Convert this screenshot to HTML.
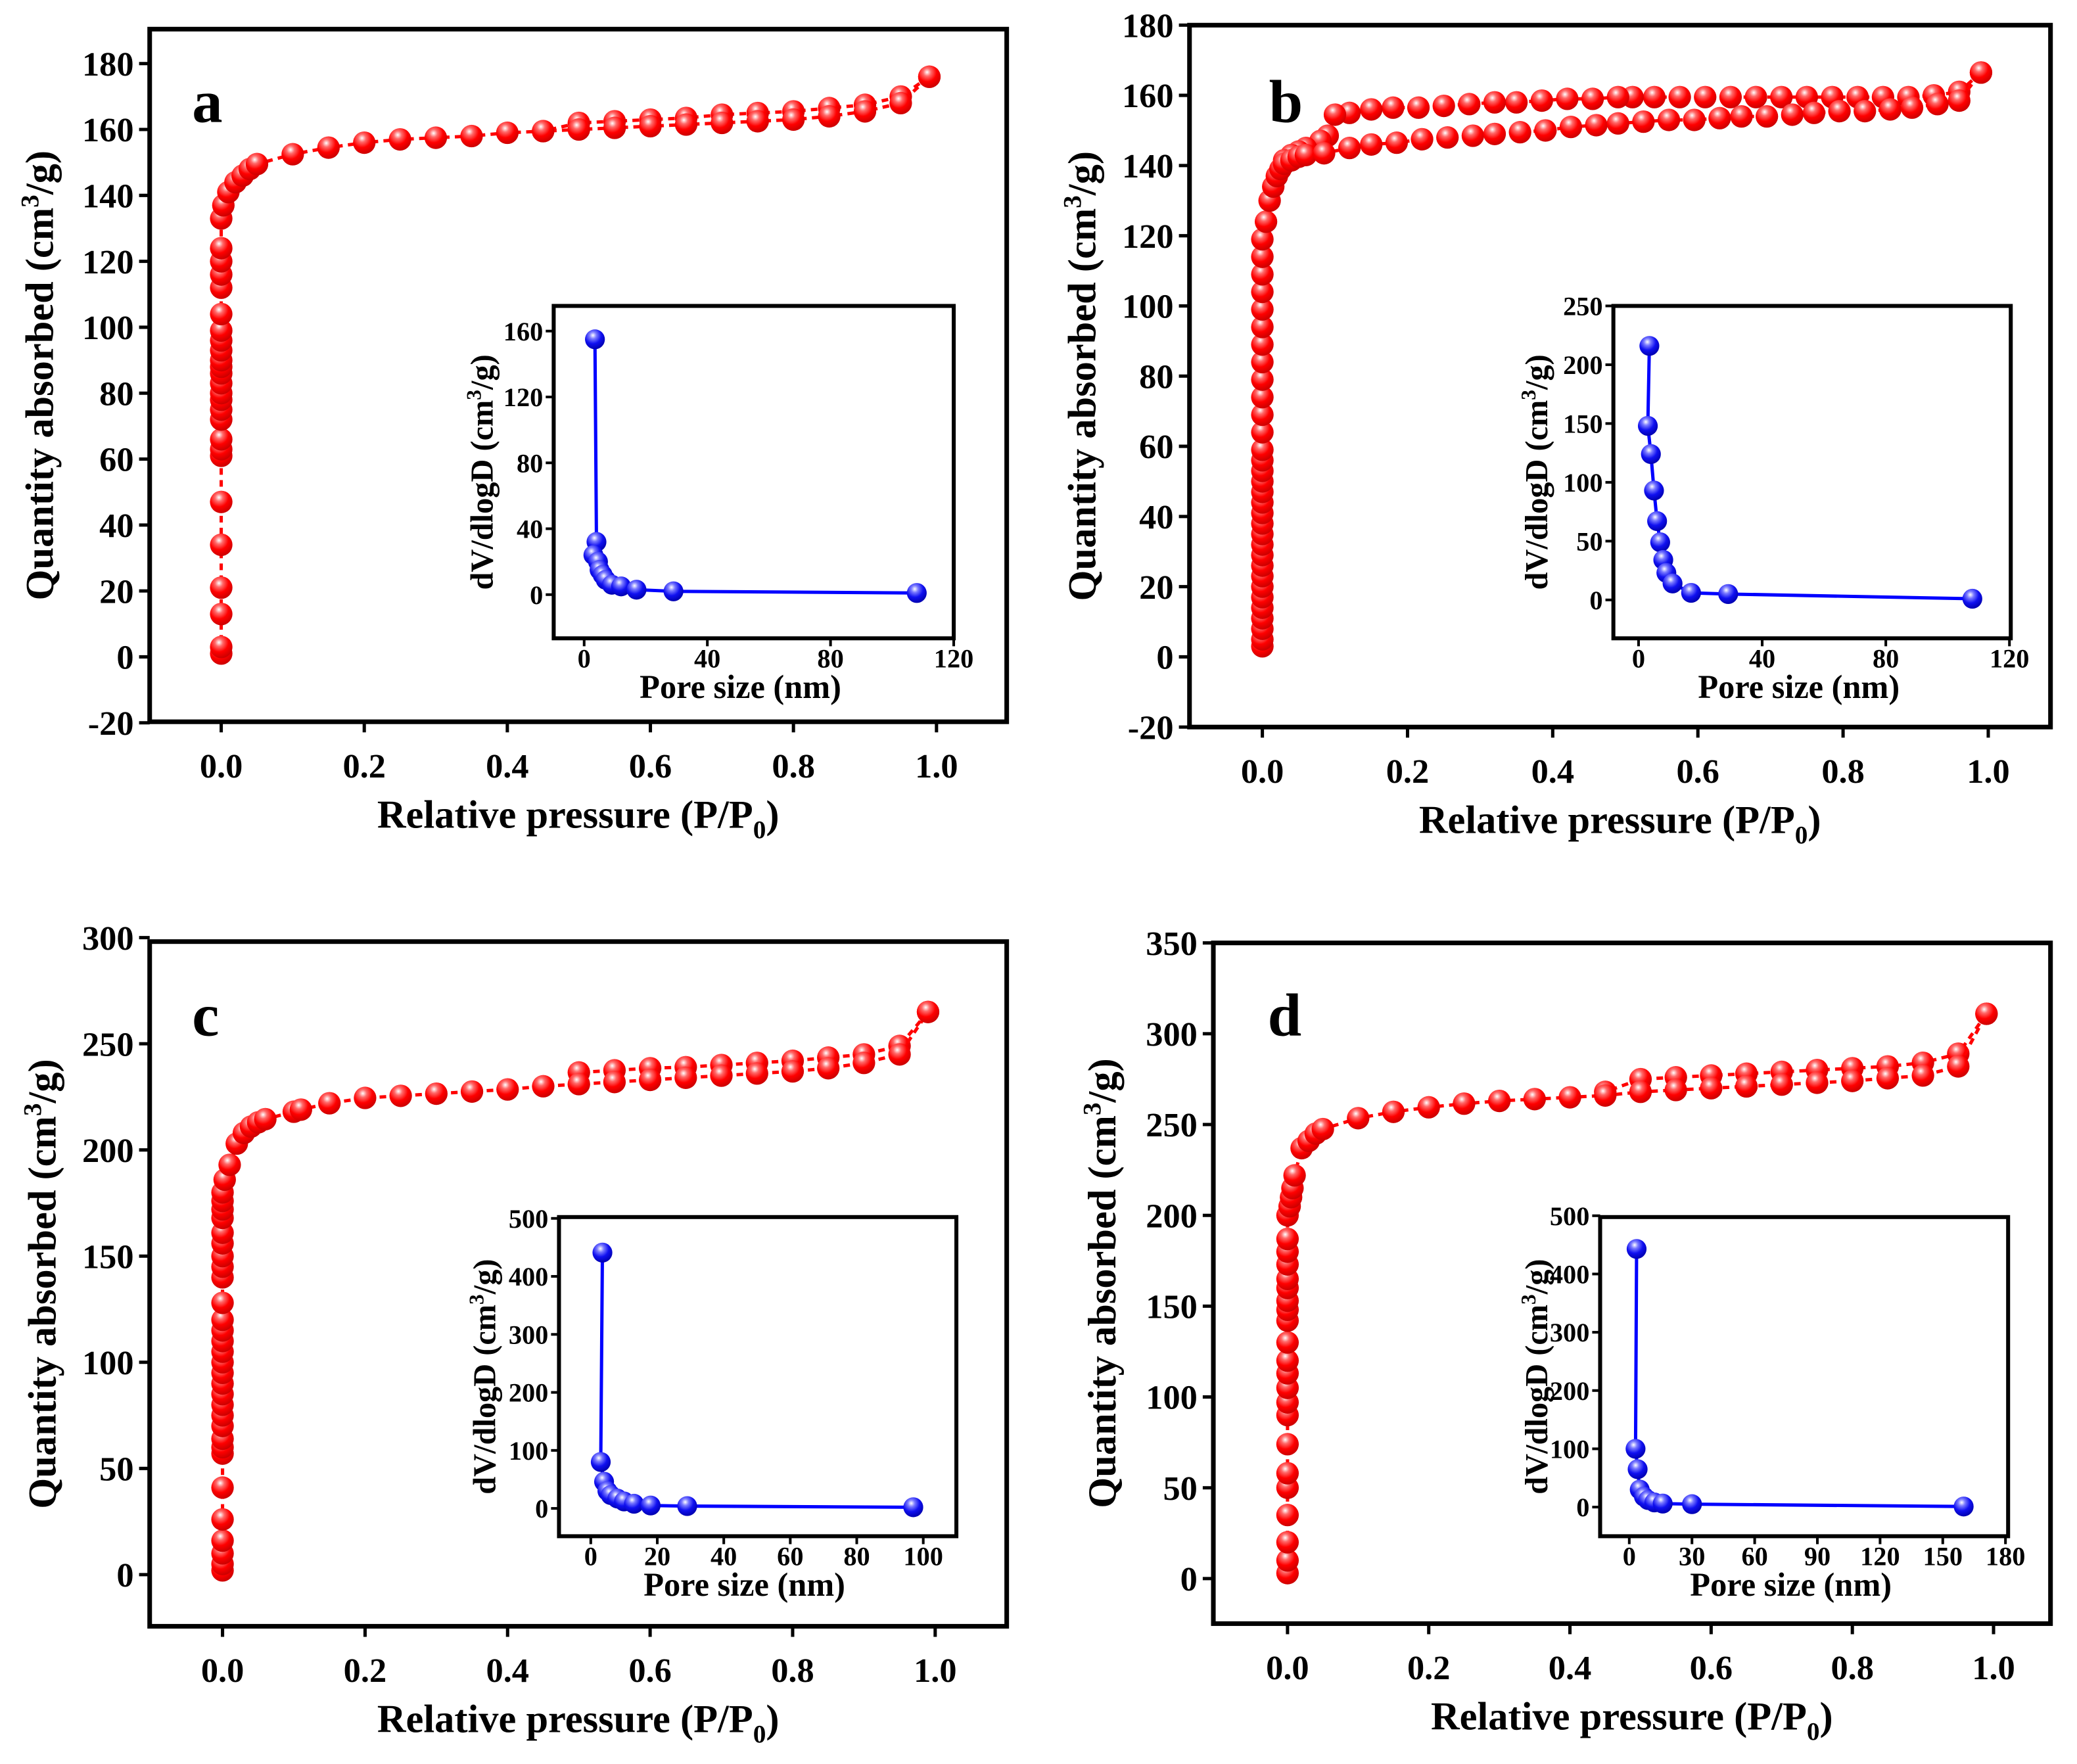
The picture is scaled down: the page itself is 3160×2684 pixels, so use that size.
<!DOCTYPE html>
<html><head><meta charset="utf-8"><style>
html,body{margin:0;padding:0;background:#fff}
svg{display:block}
text{font-family:"Liberation Serif","Times New Roman",serif;font-weight:bold;fill:#000}
</style></head><body>
<svg id="fig" width="3160" height="2684" viewBox="0 0 1568 1332" preserveAspectRatio="none" xmlns="http://www.w3.org/2000/svg">
<defs>
<radialGradient id="gr" cx="0.4" cy="0.3" r="0.7"><stop offset="0" stop-color="#fff"/><stop offset="0.25" stop-color="#ff6a6a"/><stop offset="0.6" stop-color="#f00"/><stop offset="1" stop-color="#c00"/></radialGradient>
<radialGradient id="gb" cx="0.4" cy="0.3" r="0.7"><stop offset="0" stop-color="#fff"/><stop offset="0.25" stop-color="#7a7aff"/><stop offset="0.6" stop-color="#1010f0"/><stop offset="1" stop-color="#0000b0"/></radialGradient>
</defs>
</svg>
<script>
// ---- Panel a data ----
const aAdsP=[0,0,0,0,0,0,0,0,0,0,0,0,0,0,0,0,0,0,0,0,0,0,0,0,0,0,0.003,0.01,0.02,0.03,0.04,0.05,0.1,0.15,0.2,0.25,0.3,0.35,0.4,0.45,0.5,0.55,0.6,0.65,0.7,0.75,0.8,0.85,0.9,0.95,0.99];
const aAdsV=[1,3,13,21,34,47,61,63,66,72,75,78,80,83,86,88,90,93,96,99,104,112,116,120,124,133,137,141,144,146,148,149.5,152.5,154.5,156,157,157.5,158,159,159.5,160,160.5,161,161.5,162,162.5,163,164,165.5,168,176];
const aDesP=[0.99,0.95,0.9,0.85,0.8,0.75,0.7,0.65,0.6,0.55,0.5,0.45];
const aDesV=[176,170,167.5,166.5,165.5,165,164.5,163.5,163,162.5,162,159.5];
const aPoreD=[3.5,4,3,4.5,5,6,7,9,12,17,29,108];
const aPoreV=[155,32,24,20,15,12,9,6,5,3,2,1];
// ---- Panel b data ----
const bAdsP=[0,0,0,0,0,0,0,0,0,0,0,0,0,0,0,0,0,0,0,0,0,0,0,0,0,0,0,0,0,0,0,0,0.005,0.01,0.015,0.02,0.025,0.03,0.04,0.05,0.06,0.085,0.12,0.15,0.185,0.22,0.255,0.29,0.32,0.355,0.39,0.425,0.46,0.49,0.525,0.56,0.595,0.63,0.66,0.695,0.73,0.76,0.795,0.83,0.865,0.895,0.93,0.96,0.99];
const bAdsV=[3,5,8,11,14,17,20,23,26,29,32,35,38,41,44,47,50,53,56,59,64,69,74,79,84,89,94,99,104,109,114,119,124,130,134,137,139,140.5,141.5,142.5,143,143.5,145,146,146.5,147.5,148,148.5,149,149.5,150,151,151.5,152,152.5,153,153,153.5,154,154,154.5,155,155.5,155.5,156,156.5,157.5,158.5,166.5];
const bDesP=[0.99,0.96,0.925,0.89,0.855,0.82,0.785,0.75,0.715,0.68,0.645,0.61,0.575,0.54,0.51,0.49,0.455,0.42,0.385,0.35,0.32,0.285,0.25,0.215,0.18,0.15,0.12,0.1,0.09,0.08,0.06,0.05,0.04,0.03];
const bDesV=[166.5,161,160,159.5,159.5,159.5,159.5,159.5,159.5,159.5,159.5,159.5,159.5,159.5,159.5,159.5,159,159,158.5,158,158,157.5,157,156.5,156.5,156,155,154.5,148.5,147,145,144,143,141.5];
const bPoreD=[3.5,3,4,5,6,7,8,9,11,17,29,108];
const bPoreV=[216,148,124,93,67,49,34,23,14,6,5,1];
// ---- Panel c data ----
const cAdsP=[0,0,0,0,0,0,0,0,0,0,0,0,0,0,0,0,0,0,0,0,0,0,0,0,0,0,0,0,0,0,0.003,0.01,0.02,0.03,0.04,0.05,0.06,0.1,0.11,0.15,0.2,0.25,0.3,0.35,0.4,0.45,0.5,0.55,0.6,0.65,0.7,0.75,0.8,0.85,0.9,0.95,0.99];
const cAdsV=[2,5,10,16,26,41,57,60,64,70,75,80,85,90,95,100,105,110,115,120,128,140,145,150,156,161,168,172,176,180,186,193,203,208,211,213,214.5,218,219,222,224.5,225.5,226.5,227.5,228.5,230,231,232,233,234,235,236,237,238.5,241,245,265];
const cDesP=[0.99,0.95,0.9,0.85,0.8,0.75,0.7,0.65,0.6,0.55,0.5];
const cDesV=[265,249,245,243.5,242,241,240,239,238.5,237.5,236.5];
const cPoreD=[3.5,3,4,5,6,8,10,13,18,29,97];
const cPoreV=[441,80,46,30,23,17,12,8,5,4,2];
// ---- Panel d data ----
const dAdsP=[0,0,0,0,0,0,0,0,0,0,0,0,0,0,0,0,0,0,0,0,0,0,0.003,0.005,0.007,0.01,0.02,0.03,0.04,0.05,0.1,0.15,0.2,0.25,0.3,0.35,0.4,0.45,0.5,0.55,0.6,0.65,0.7,0.75,0.8,0.85,0.9,0.95,0.99];
const dAdsV=[3,10,20,35,50,58,74,90,97,105,113,120,130,142,148,153,160,165,173,180,187,200,205,210,215,222,237,241,245,247.5,253.5,257,259.5,261.5,263,264,265,266,268,269,270,271,272,273,274,275.5,277,282,311];
const dDesP=[0.99,0.95,0.9,0.85,0.8,0.75,0.7,0.65,0.6,0.55,0.5,0.45];
const dDesV=[311,289,284,282,281,280,279,278,277,276,275,268];
const dPoreD=[3.5,3,4,5,7,9,12,16,30,160];
const dPoreV=[443,100,65,30,18,12,8,6,5,1];
// tick labels
const aYTicks=[-20,0,20,40,60,80,100,120,140,160,180];
const bYTicks=[-20,0,20,40,60,80,100,120,140,160,180];
const cYTicks=[0,50,100,150,200,250,300];
const dYTicks=[0,50,100,150,200,250,300,350];
const mainXTicks=[0,0.2,0.4,0.6,0.8,1.0];
const abInsetX=[0,40,80,120];
const aInsetY=[0,40,80,120,160];
const bInsetY=[0,50,100,150,200,250];
const cInsetX=[0,20,40,60,80,100];
const cInsetY=[0,100,200,300,400,500];
const dInsetX=[0,30,60,90,120,150,180];
const dInsetY=[0,100,200,300,400,500];

const NS='http://www.w3.org/2000/svg';
const svg=document.getElementById('fig');
function mk(tag,attrs,parent){const e=document.createElementNS(NS,tag);for(const k in attrs)e.setAttribute(k,attrs[k]);(parent||svg).appendChild(e);return e;}
function lin(d0,d1,p0,p1){return v=>p0+(v-d0)*(p1-p0)/(d1-d0);}

function panel(id,L){
  const g=mk('g',{});
  
  
  const X=lin(0,1,L.x0,L.x1), Y=lin(L.yv0,L.yv1,L.yp0,L.yp1);
  const fr=mk('rect',{x:L.l,y:L.t,width:L.r-L.l,height:L.b-L.t,fill:'none',stroke:'#000','stroke-width':3.5},g);
  
  
  L.yt.forEach(v=>{const y=Y(v);mk('line',{x1:L.l-8,x2:L.l,y1:y,y2:y,stroke:'#000','stroke-width':2.5},g);
    const t=mk('text',{x:L.l-12,y:y+9,'text-anchor':'end','font-size':L.fs},g);t.textContent=v;
    
    });
  mainXTicks.forEach(v=>{const x=X(v);mk('line',{x1:x,x2:x,y1:L.b,y2:L.b+8,stroke:'#000','stroke-width':2.5},g);
    const t=mk('text',{x:x,y:L.b+42,'text-anchor':'middle','font-size':L.fs},g);t.textContent=v.toFixed(1);
    
    });
  const yt=mk('text',{transform:`translate(${L.ytx},${(L.t+L.b)/2}) rotate(-90)`,'text-anchor':'middle','font-size':L.tfs},g);
  yt.innerHTML='Quantity absorbed (cm<tspan dy="-11" font-size="'+(L.tfs*0.65)+'">3</tspan><tspan dy="11">/g)</tspan>';
  
  
  const xt=mk('text',{x:(L.l+L.r)/2,y:L.b+80,'text-anchor':'middle','font-size':L.tfs},g);
  xt.innerHTML='Relative pressure (P/P<tspan dy="8" font-size="'+(L.tfs*0.65)+'">0</tspan><tspan dy="-8">)</tspan>';
  
  
  const lt=mk('text',{x:L.lx,y:L.ly,'font-size':46},g);lt.textContent=id;
  
  
  [[L.desP,L.desV,'desorption'],[L.adsP,L.adsV,'adsorption']].forEach(([P,V,nm])=>{
    const pts=P.map((p,i)=>X(p)+','+Y(V[i])).join(' ');
    const pl=mk('polyline',{points:pts,fill:'none',stroke:'#f00','stroke-width':2.5,'stroke-dasharray':'5,4'},g);
    
    
    P.forEach((p,i)=>{const c=mk('circle',{cx:X(p),cy:Y(V[i]),r:8.5,fill:'url(#gr)'},g);
      
      });
  });
  // inset
  const I=L.ins;
  const ig=mk('g',{},g);
  
  
  const IX=lin(I.xv0,I.xv1,I.xp0,I.xp1), IY=lin(I.yv0,I.yv1,I.yp0,I.yp1);
  mk('rect',{x:I.l,y:I.t,width:I.r-I.l,height:I.b-I.t,fill:'none',stroke:'#000','stroke-width':3},ig);
  I.yt.forEach(v=>{const y=IY(v);mk('line',{x1:I.l-6,x2:I.l,y1:y,y2:y,stroke:'#000','stroke-width':2},ig);
    const t=mk('text',{x:I.l-8,y:y+7,'text-anchor':'end','font-size':I.fs},ig);t.textContent=v;
    
    });
  I.xt.forEach(v=>{const x=IX(v);mk('line',{x1:x,x2:x,y1:I.b,y2:I.b+6,stroke:'#000','stroke-width':2},ig);
    const t=mk('text',{x:x,y:I.b+22,'text-anchor':'middle','font-size':I.fs},ig);t.textContent=v;
    
    });
  const iyt=mk('text',{transform:`translate(${I.ytx},${(I.t+I.b)/2}) rotate(-90)`,'text-anchor':'middle','font-size':I.tfs},ig);
  iyt.innerHTML='dV/dlogD (cm<tspan dy="-9" font-size="'+(I.tfs*0.65)+'">3</tspan><tspan dy="9">/g)</tspan>';
  
  
  const ixt=mk('text',{x:(I.l+I.r)/2-10,y:I.b+45,'text-anchor':'middle','font-size':25},ig);ixt.textContent='Pore size (nm)';
  
  
  const ipl=mk('polyline',{points:L.pD.map((d,i)=>IX(d)+','+IY(L.pV[i])).join(' '),fill:'none',stroke:'#00f','stroke-width':2.5},ig);
  
  
  L.pD.forEach((d,i)=>{const c=mk('circle',{cx:IX(d),cy:IY(L.pV[i]),r:7.5,fill:'url(#gb)'},ig);
    
    });
}

panel('a',{l:113,r:760,t:22,b:545,x0:167,x1:707,yv0:0,yv1:180,yp0:496,yp1:48,yt:aYTicks,fs:26,tfs:30,ytx:40,lx:145,ly:92,
  adsP:aAdsP,adsV:aAdsV,desP:aDesP,desV:aDesV,pD:aPoreD,pV:aPoreV,
  ins:{l:418,r:720,t:231,b:482,xv0:0,xv1:120,xp0:441,xp1:720,yv0:0,yv1:160,yp0:449,yp1:250,xt:abInsetX,yt:aInsetY,fs:20,tfs:24,ytx:372}});
panel('b',{l:898,r:1548,t:19,b:549,x0:953,x1:1501,yv0:0,yv1:180,yp0:496,yp1:19,yt:bYTicks,fs:26,tfs:30,ytx:827,lx:958,ly:92,
  adsP:bAdsP,adsV:bAdsV,desP:bDesP,desV:bDesV,pD:bPoreD,pV:bPoreV,
  ins:{l:1218,r:1518,t:231,b:482,xv0:0,xv1:120,xp0:1237,xp1:1517,yv0:0,yv1:250,yp0:453,yp1:231,xt:abInsetX,yt:bInsetY,fs:20,tfs:24,ytx:1168}});
panel('c',{l:113,r:760,t:711,b:1228,x0:168,x1:706,yv0:0,yv1:300,yp0:1189,yp1:708,yt:cYTicks,fs:26,tfs:30,ytx:42,lx:145,ly:782,
  adsP:cAdsP,adsV:cAdsV,desP:cDesP,desV:cDesV,pD:cPoreD,pV:cPoreV,
  ins:{l:422,r:722,t:919,b:1160,xv0:0,xv1:100,xp0:446,xp1:697,yv0:0,yv1:500,yp0:1139,yp1:920,xt:cInsetX,yt:cInsetY,fs:20,tfs:24,ytx:374}});
panel('d',{l:916,r:1548,t:712,b:1226,x0:972,x1:1505,yv0:0,yv1:350,yp0:1192,yp1:712,yt:dYTicks,fs:26,tfs:30,ytx:842,lx:957,ly:782,
  adsP:dAdsP,adsV:dAdsV,desP:dDesP,desV:dDesV,pD:dPoreD,pV:dPoreV,
  ins:{l:1208,r:1516,t:919,b:1160,xv0:0,xv1:180,xp0:1230,xp1:1514,yv0:0,yv1:500,yp0:1138,yp1:918,xt:dInsetX,yt:dInsetY,fs:20,tfs:24,ytx:1168}});
</script>
</body></html>
